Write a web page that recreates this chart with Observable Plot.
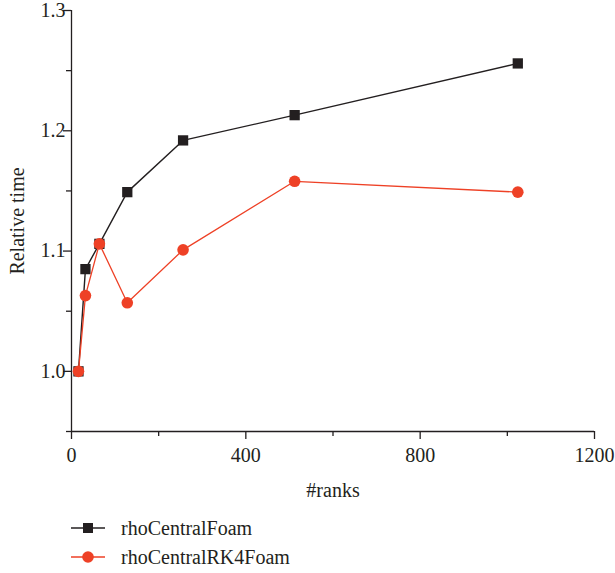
<!DOCTYPE html>
<html>
<head>
<meta charset="utf-8">
<script src="https://cdn.jsdelivr.net/npm/d3@7"></script>
<script src="https://cdn.jsdelivr.net/npm/@observablehq/plot@0.6"></script>
<style>
  html, body { margin: 0; padding: 0; background: #fff; }
  #wrap { position: relative; width: 615px; height: 573px; font-family: 'Liberation Serif'; color: #231f20; }
  #wrap svg text { font-family: 'Liberation Serif'; }
  .leg { position: absolute; left: 70px; height: 28px; display: flex; align-items: center; font-size: 20px; font-family: 'Liberation Serif'; }
  .leg svg { margin-right: 15px; }
</style>
</head>
<body>
<div id="wrap"></div>
<script>
const ranks = [16, 32, 64, 128, 256, 512, 1024];
const rhoCentralFoam = [1.000, 1.085, 1.106, 1.149, 1.192, 1.213, 1.256];
const rhoCentralRK4Foam = [1.000, 1.063, 1.106, 1.057, 1.101, 1.158, 1.149];
const seriesNames = ["rhoCentralFoam", "rhoCentralRK4Foam"];
const seriesColors = ["#231f20", "#ee4126"];
const xMajor = [0, 400, 800, 1200];
const xMinor = [200, 600, 1000];
const yMajor = [1.0, 1.1, 1.2, 1.3];
const yMinor = [0.95, 1.05, 1.15, 1.25];

const black = ranks.map((r, i) => ({x: r, y: rhoCentralFoam[i]}));
const red = ranks.map((r, i) => ({x: r, y: rhoCentralRK4Foam[i]}));

const chart = Plot.plot({
  width: 615,
  height: 505,
  marginLeft: 71,
  marginRight: 21,
  marginTop: 10,
  marginBottom: 74,
  style: {fontFamily: "Liberation Serif", fontSize: "20px", color: "#231f20", background: "#fff", overflow: "visible"},
  x: {domain: [0, 1200]},
  y: {domain: [0.95, 1.3]},
  marks: [
    Plot.axisX(xMajor, {tickSize: 8, tickPadding: 8, tickFormat: d => String(d), label: "#ranks", labelAnchor: "center", labelArrow: "none", labelOffset: 65, strokeWidth: 1.3}),
    Plot.axisX(xMinor, {tickSize: 5, text: null, label: null, strokeWidth: 1.3}),
    Plot.axisY(yMajor, {tickSize: 8, tickPadding: -2, tickFormat: d => d.toFixed(1), label: "Relative time", labelAnchor: "center", labelArrow: "none", labelOffset: 62, strokeWidth: 1.3}),
    Plot.axisY(yMinor, {tickSize: 5, text: null, label: null, strokeWidth: 1.3}),
    Plot.ruleX([0], {stroke: "#231f20", strokeWidth: 1.3}),
    Plot.ruleY([0.95], {stroke: "#231f20", strokeWidth: 1.3}),
    Plot.line(black, {x: "x", y: "y", stroke: seriesColors[0], strokeWidth: 1.4}),
    Plot.dot(black, {x: "x", y: "y", symbol: "square", r: 5.8, fill: seriesColors[0], stroke: "none"}),
    Plot.line(red, {x: "x", y: "y", stroke: seriesColors[1], strokeWidth: 1.3}),
    Plot.dot(red, {x: "x", y: "y", symbol: "circle", r: 5.8, fill: seriesColors[1], stroke: "none"})
  ]
});

const wrap = document.getElementById("wrap");
wrap.appendChild(chart);

seriesNames.forEach((name, i) => {
  const d = document.createElement("div");
  d.className = "leg";
  d.style.top = (514 + i * 29) + "px";
  const marker = i === 0
    ? `<rect x="13" y="9" width="10" height="10" fill="${seriesColors[i]}"/>`
    : `<circle cx="18" cy="14" r="5.8" fill="${seriesColors[i]}"/>`;
  d.innerHTML = `<svg width="36" height="28"><line x1="1" x2="35" y1="14" y2="14" stroke="${seriesColors[i]}" stroke-width="1.4"/>${marker}</svg><span>${name}</span>`;
  wrap.appendChild(d);
});
</script>
</body>
</html>
